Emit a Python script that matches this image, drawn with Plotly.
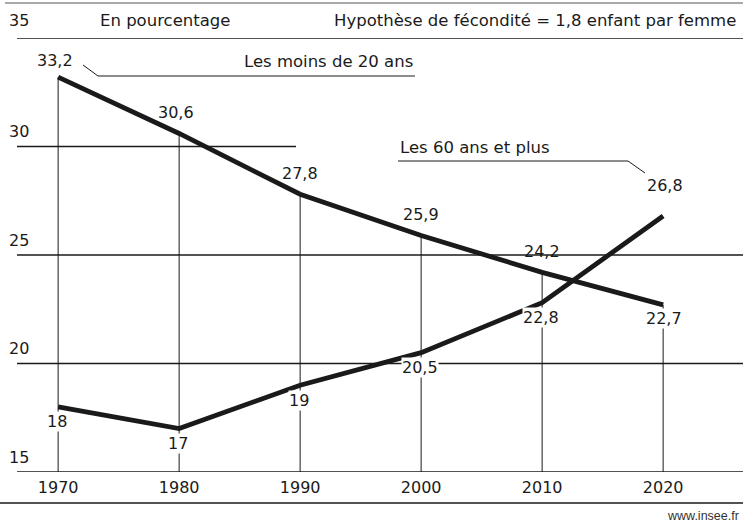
import plotly.graph_objects as go

# ---- data ----
years = [1970, 1980, 1990, 2000, 2010, 2020]
moins_20 = [33.2, 30.6, 27.8, 25.9, 24.2, 22.7]
plus_60 = [18, 17, 19, 20.5, 22.8, 26.8]
moins_20_labels = ["33,2", "30,6", "27,8", "25,9", "24,2", "22,7"]
plus_60_labels = ["18", "17", "19", "20,5", "22,8", "26,8"]
y_ticks = [15, 20, 25, 30, 35]
x_tick_labels = ["1970", "1980", "1990", "2000", "2010", "2020"]
series_names = ["Les moins de 20 ans", "Les 60 ans et plus"]
title_left = "En pourcentage"
title_right = "Hypothèse de fécondité = 1,8 enfant par femme"
source = "www.insee.fr"

# ---- layout geometry (pixels) ----
W, H = 743, 526
ML, MR, MT, MB = 17, 0, 38, 54
PW, PH = W - ML - MR, H - MT - MB
FONT = "DejaVu Sans"
INK = "#1a1a1a"
font_txt = dict(family=FONT, size=16.5, color=INK)
font_num = dict(family=FONT, size=16, color=INK)


def px(x):
    return (x - ML) / PW


def py(y):
    return (H - MB - y) / PH


fig = go.Figure()

# series lines
for vals, name in [(moins_20, series_names[0]), (plus_60, series_names[1])]:
    fig.add_trace(go.Scatter(x=years, y=vals, mode="lines", name=name,
                             line=dict(color=INK, width=4.8),
                             showlegend=False, hoverinfo="x+y"))

shapes = []
# horizontal grid lines
for t in y_ticks:
    x1 = px(296) if t == 30 else 1
    shapes.append(dict(type="line", xref="paper", yref="y", x0=0, x1=x1,
                       y0=t, y1=t, line=dict(color=INK, width=1.4), layer="below"))
# vertical drop lines from the "moins de 20 ans" points
for yr, v in zip(years, moins_20):
    shapes.append(dict(type="line", xref="x", yref="y", x0=yr, x1=yr,
                       y0=min(y_ticks), y1=v, line=dict(color=INK, width=1), layer="below"))
# frame lines
shapes.append(dict(type="line", xref="paper", yref="paper", x0=px(5), x1=1,
                   y0=py(3), y1=py(3), line=dict(color="#555", width=1)))
shapes.append(dict(type="line", xref="paper", yref="paper", x0=px(0), x1=1,
                   y0=py(503), y1=py(503), line=dict(color=INK, width=1.4)))
# leader lines
shapes.append(dict(type="path", xref="paper", yref="paper",
                   path=f"M {px(83)},{py(65)} L {px(98)},{py(76)} L {px(415)},{py(76)}",
                   line=dict(color=INK, width=1)))
shapes.append(dict(type="path", xref="paper", yref="paper",
                   path=f"M {px(398)},{py(161)} L {px(628)},{py(161)} L {px(645)},{py(173)}",
                   line=dict(color=INK, width=1)))

annotations = []

# value labels
up_shift = {0: 17}
for i, (yr, v, lab) in enumerate(zip(years, moins_20, moins_20_labels)):
    if i == len(years) - 1:
        annotations.append(dict(x=yr, y=v, text=lab, showarrow=False, font=font_num,
                                yshift=-14, xshift=1, bgcolor="white", borderpad=0))
    else:
        annotations.append(dict(x=yr, y=v, text=lab, showarrow=False, font=font_num,
                                yshift=up_shift.get(i, 21), xshift=-3 if i < 2 else 0))
for i, (yr, v, lab) in enumerate(zip(years, plus_60, plus_60_labels)):
    if i == len(years) - 1:
        annotations.append(dict(x=yr, y=v, text=lab, showarrow=False, font=font_num,
                                yshift=30, xshift=2))
    else:
        annotations.append(dict(x=yr, y=v, text=lab, showarrow=False, font=font_num,
                                yshift=-15, xshift=-1, bgcolor="white", borderpad=0))

# y tick labels (above the grid lines, at the left)
for t in y_ticks:
    annotations.append(dict(xref="paper", yref="y", x=0, y=t, xanchor="left",
                            yanchor="middle", xshift=-10,
                            yshift=15 if t != 35 else 18,
                            text=str(t), showarrow=False, font=font_num))

# series names
annotations.append(dict(xref="paper", yref="paper", x=px(415), y=py(61),
                        xanchor="right", yanchor="middle",
                        text=series_names[0], showarrow=False, font=font_txt))
annotations.append(dict(xref="paper", yref="paper", x=px(398), y=py(147),
                        xanchor="left", yanchor="middle",
                        text=series_names[1], showarrow=False, font=font_txt))
# header
annotations.append(dict(xref="paper", yref="paper", x=px(165), y=py(20),
                        xanchor="center", yanchor="middle",
                        text=title_left, showarrow=False, font=font_txt))
annotations.append(dict(xref="paper", yref="paper", x=px(738), y=py(20),
                        xanchor="right", yanchor="middle",
                        text=title_right, showarrow=False, font=font_txt))
# source
annotations.append(dict(xref="paper", yref="paper", x=px(741), y=py(516),
                        xanchor="right", yanchor="middle",
                        text=source, showarrow=False,
                        font=dict(family="Liberation Sans", size=12.5, color="#333")))

fig.update_layout(
    width=W, height=H,
    margin=dict(l=ML, r=MR, t=MT, b=MB, pad=0),
    paper_bgcolor="white", plot_bgcolor="white",
    xaxis=dict(range=[1966.6, 2026.6], tickvals=years, ticktext=x_tick_labels,
               showgrid=False, zeroline=False, showline=False, ticks="",
               tickfont=font_num, ticklabelstandoff=4, fixedrange=True),
    yaxis=dict(range=[15, 35], showgrid=False, zeroline=False, showline=False,
               showticklabels=False, ticks="", fixedrange=True),
    shapes=shapes, annotations=annotations, showlegend=False,
)

fig.write_html("out.html", config=dict(displayModeBar=False),
               post_script="document.body.style.margin='0';document.body.style.overflow='hidden';")
